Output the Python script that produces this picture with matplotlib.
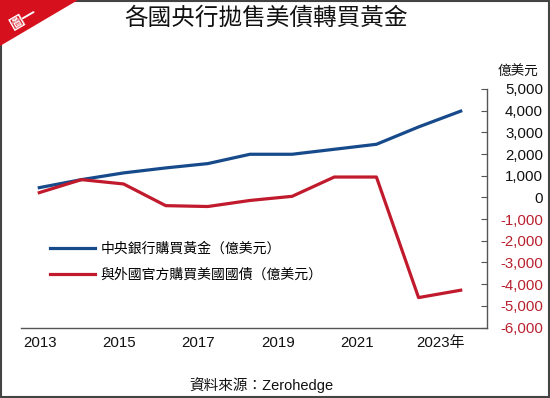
import numpy as np
import matplotlib.pyplot as plt
from matplotlib.patches import Polygon, Rectangle

plt.rcParams['font.family'] = ['Liberation Sans', 'Noto Sans CJK TC', 'DejaVu Sans']

# データ（億美元）
years = [2013, 2014, 2015, 2016, 2017, 2018, 2019, 2020, 2021, 2022, 2023]
gold = [450, 820, 1130, 1360, 1560, 1990, 1990, 2220, 2450, 3250, 3980]
treasury = [220, 820, 620, -380, -420, -140, 50, 940, 940, -4620, -4280]

gold_label = '中央銀行購買黃金（億美元）'
treasury_label = '與外國官方購買美國國債（億美元）'
title = '各國央行拋售美債轉買黃金'
source = '資料來源：Zerohedge'

xtick_labels = ['2013', '2015', '2017', '2019', '2021', '2023年']
yticks = list(range(-6000, 5001, 1000))

blue = '#174a8b'
red = '#c01a2c'
neg_red = '#b8202e'

fig = plt.figure(figsize=(5.5, 3.98), dpi=100)
fig.patch.set_facecolor('white')

# 外枠
fig.add_artist(Rectangle((0.002, 0.002), 0.996, 0.995, transform=fig.transFigure,
                         fill=False, edgecolor='#444444', linewidth=1.5))
# 左上の赤い三角形
fig.add_artist(Polygon([(0, 1), (78 / 550, 1), (0, 1 - 46 / 398)], closed=True,
                       transform=fig.transFigure, facecolor='#d7101e', edgecolor='none'))
fig.text(24 / 550, 1 - 19 / 398, '圖一', color='white', fontsize=10.5, rotation=30,
         ha='center', va='center', fontweight='bold')

fig.text(0.483, 1 - 19 / 398, title, fontsize=17, ha='center', va='center', color='#111111')

ax = fig.add_axes([20.7 / 550, 1 - 327.5 / 398, 466.6 / 550, 238.5 / 398])
ax.plot(years, gold, color=blue, linewidth=2.3, label=gold_label, solid_joinstyle='round')
ax.plot(years, treasury, color=red, linewidth=2.3, label=treasury_label, solid_joinstyle='round')

ax.set_xlim(2012.559, 2023.631)
ax.set_ylim(-6000, 5000)

for s in ['top', 'left']:
    ax.spines[s].set_visible(False)
ax.spines['right'].set_color('#555555')
ax.spines['bottom'].set_color('#555555')
ax.spines['right'].set_linewidth(1.0)
ax.spines['bottom'].set_linewidth(1.0)

ax.yaxis.tick_right()
ax.set_yticks(yticks)
ax.set_yticklabels([f'{v:,}' for v in yticks], fontsize=10.8)
ax.tick_params(axis='y', direction='in', length=4, width=0.8, color='#555555')
for lab, v in zip(ax.get_yticklabels(), yticks):
    lab.set_color(neg_red if v < 0 else '#111111')
    lab.set_horizontalalignment('right')
ax.tick_params(axis='y', pad=40)

xpos = [2013.02, 2014.89, 2016.77, 2018.66, 2020.54, 2022.53]
ax.set_xticks(xpos)
ax.set_xticklabels(xtick_labels, fontsize=10.8, color='#111111')
ax.tick_params(axis='x', length=0, pad=6)

ax.text(1.0 + 31 / 466.6, 1.0 + 17 / 238.5, '億美元', transform=ax.transAxes,
        fontsize=9.8, ha='center', va='center', color='#111111')

ax.legend(loc='upper left', bbox_to_anchor=(0.063, 0.36), frameon=False, fontsize=10,
          handlelength=3.25, handletextpad=0.36, labelspacing=0.85, borderaxespad=0,
          borderpad=0)

fig.text(261 / 550, 1 - 385 / 398, source, fontsize=10.5, ha='center', va='center', color='#111111')

fig.savefig('out.png', dpi=100)
